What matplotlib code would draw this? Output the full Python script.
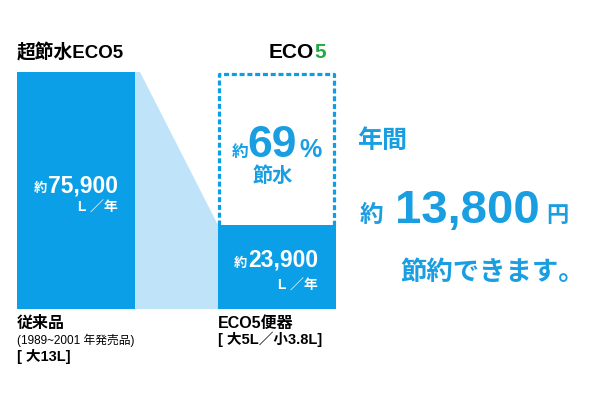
import matplotlib
matplotlib.use("Agg")
import matplotlib.pyplot as plt
from matplotlib.patches import Polygon
from matplotlib.lines import Line2D

plt.rcParams['font.family'] = ['Liberation Sans', 'Noto Sans CJK JP', 'DejaVu Sans']
plt.rcParams['lines.scale_dashes'] = False

# ---- data ----
categories = ["従来品", "ECO5便器"]
values = [75900, 23900]
value_labels = ["75,900", "23,900"]
saving_pct = "69"
saving_yen = "13,800"

BLUE = "#0a9fe6"
LIGHT = "#bfe3f8"
TXT = "#1a9ee2"
GREEN = "#24a843"

W, H = 600, 400
fig = plt.figure(figsize=(6, 4), dpi=100)
fig.patch.set_facecolor("white")
ax = fig.add_axes([0, 0, 1, 1])
ax.set_axis_off()

# pixel mapping: category i centre at 76 + 201*i ; value v at 309 - (v-base)*k
pitch = 201.0
x0 = 76.0
base = -4600.0
top_px, bot_px = 72.0, 309.0
k = (bot_px - top_px) / (values[0] - base)
ax.set_xlim(-x0 / pitch, (W - x0) / pitch)
ax.set_ylim(base - (H - bot_px) / k, base + bot_px / k)
bw = 118.0 / pitch

xs = list(range(len(categories)))
ax.bar(xs, [v - base for v in values], bottom=base, width=bw, color=BLUE, zorder=3)

# connecting light trapezoid
xl = xs[0] + bw / 2
xr = xs[1] - bw / 2
poly = Polygon([(xl, base), (xl, values[0]), (xl + 5 / pitch, values[0]),
                (xr, values[1]), (xr, base)], closed=True,
               facecolor=LIGHT, edgecolor="none", zorder=2)
ax.add_patch(poly)

# dashed outline of the original volume on the ECO5 bar
dx = 1.5 / pitch
dy = 2.5 / k
ln = Line2D([xs[1] - bw / 2 + dx, xs[1] - bw / 2 + dx, xs[1] + bw / 2 - dx, xs[1] + bw / 2 - dx],
            [values[1], values[0] - dy, values[0] - dy, values[1]],
            color=BLUE, lw=2.3, dashes=(3.6, 2.0), zorder=4)
ax.add_line(ln)


def T(x, y, s, size, color="black", ha="left", va="baseline", weight="bold", **kw):
    fig.text(x / W, 1 - y / H, s, fontsize=size, color=color, ha=ha, va=va,
             fontweight=weight, **kw)

# top titles
T(17, 58, "超節水ECO5", 13.5)
T(314, 58, "ECO", 15, ha="right")
T(314, 58, "5", 15, color=GREEN)

# left bar value
T(118, 192, value_labels[0], 16.5, color="white", ha="right")
T(47, 192, "約", 9.5, color="white", ha="right")
T(118, 212, "L ／年", 10, color="white", ha="right")

# right bar value
T(318, 267, value_labels[1], 16.5, color="white", ha="right")
T(247, 267, "約", 9.5, color="white", ha="right")
T(318, 290, "L ／年", 10, color="white", ha="right")

# saving percentage
T(297, 157, saving_pct, 32, color=TXT, ha="right")
T(248, 157, "約", 12, color=TXT, ha="right")
T(299, 157, "%", 18, color=TXT)
T(273, 182, "節水", 14.5, color=TXT, ha="center")

# yearly saving
T(357, 148, "年間", 18, color=TXT)
T(360, 222, "約", 17, color=TXT)
T(540, 223, saving_yen, 34, color=TXT, ha="right")
T(546, 222, "円", 16, color=TXT)
T(400, 280, "節約できます。", 19, color=TXT)

# bottom labels
T(17, 328, categories[0], 11.5)
T(17, 344, "(1989~2001 年発売品)", 8.5, weight="normal")
T(17, 361, "[ 大13L]", 10.5)
T(218, 328, categories[1], 11.5)
T(218, 344, "[ 大5L／小3.8L]", 10.5)

fig.savefig("out.png", dpi=100, facecolor="white")
